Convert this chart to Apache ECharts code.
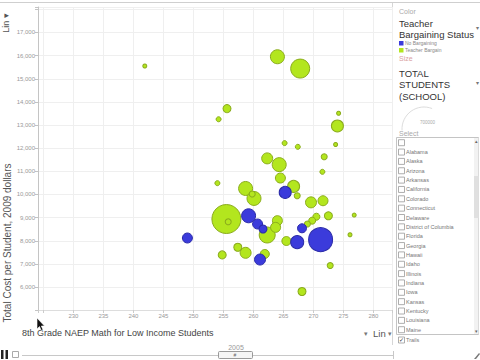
<!DOCTYPE html>
<html><head><meta charset="utf-8">
<script src="https://cdn.jsdelivr.net/npm/echarts@6/dist/echarts.min.js"></script>
<style>html,body{margin:0;padding:0;background:#fff}#c{width:480px;height:360px}</style>
</head><body><div id="c"></div>
<script>
// Teacher Bargaining (green)
const bargainX = [241.9,264.0,267.8,255.6,254.2,274.2,274.0,265.2,267.4,273.7,271.8,262.3,264.3,264.5,271.5,254.0,258.7,260.1,259.8,266.7,267.3,269.6,271.6,272.5,270.5,269.8,269.0,255.5,255.8,264.0,263.7,262.3,265.5,276.1,276.8,257.4,258.7,254.8,261.9,272.8,268.1];
const bargainY = [15550,15950,15440,13710,13250,13510,12960,12220,12060,12160,11630,11560,11290,10710,10980,10490,10260,9830,10020,10350,9945,9660,9730,9080,9040,8870,8725,8940,8820,8870,8580,8250,7990,8260,9110,7720,7480,7390,7430,6930,5810];
const bargainSize = [114,1400,2575,457,178,114,1027,178,178,114,257,863,1400,713,178,178,1400,1400,257,1027,257,863,713,457,350,350,257,6000,257,713,713,1826,578,114,114,457,863,457,578,257,457];
// No Bargaining (blue)
const noBargainX = [265.3,259.2,260.7,261.6,268.1,271.2,249.0,267.3,261.1];
const noBargainY = [10090,9080,8725,8510,8540,8050,8120,7940,7190];
const noBargainSize = [1027,1400,713,457,578,4110,713,1206,863];

const xTickLabels = ['230','235','240','245','250','255','260','265','270','275','280'];
const yTickLabels = ['6,000','7,000','8,000','9,000','10,000','11,000','12,000','13,000','14,000','15,000','16,000','17,000'];
const legendNames = ['No Bargaining','Teacher Bargain'];
const stateNames = ['','Alabama','Alaska','Arizona','Arkansas','California','Colorado','Connecticut','Delaware','District of Columbia','Florida','Georgia','Hawaii','Idaho','Illinois','Indiana','Iowa','Kansas','Kentucky','Louisiana','Maine'];
const yearLabel = '2005';

const F = 'Arial, "Liberation Sans", sans-serif';
function build(xs, ys, ss){
  return xs.map((x,i)=>[x, ys[i], ss[i]]).sort((a,b)=>b[2]-a[2]);
}
function sz(v){ return 29*Math.sqrt(v[2]/6000); }
function T(x,y,text,size,color,extra){
  const o = {type:'text', x:x, y:y, silent:true, style:Object.assign({text:text, fontSize:size, fill:color, fontFamily:F, align:'left', verticalAlign:'middle'}, (extra&&extra.style)||{})};
  if (extra && extra.rotation) o.rotation = extra.rotation;
  return o;
}
const g = [];
// frame lines
g.push({type:'line', shape:{x1:0,y1:2.5,x2:480,y2:2.5}, style:{stroke:'#cfcfcf',lineWidth:1}});
g.push({type:'line', shape:{x1:392.5,y1:3,x2:392.5,y2:345}, style:{stroke:'#d6d6d6',lineWidth:1}});
// left Lin control
g.push(T(6,23,'Lin \u25BE',9,'#555',{rotation:Math.PI/2, style:{align:'center'}}));
// y axis title
g.push(T(7,243,'Total Cost per Student, 2009 dollars',10,'#555',{rotation:Math.PI/2, style:{align:'center'}}));
// x axis title
g.push(T(22,333,'8th Grade NAEP Math for Low Income Students',9,'#444'));
g.push(T(364,333,'\u25BE',7,'#777'));
g.push(T(373,333,'Lin',9.5,'#555'));
g.push(T(388,333,'\u25BE',7,'#777'));
// time slider
g.push(T(236,347,yearLabel,7,'#999',{style:{align:'center'}}));
g.push({type:'line', shape:{x1:22,y1:355.5,x2:393,y2:355.5}, style:{stroke:'#c8c8c8',lineWidth:1}});
g.push({type:'line', shape:{x1:393.5,y1:351,x2:393.5,y2:359}, style:{stroke:'#c8c8c8',lineWidth:1}});
g.push({type:'rect', shape:{x:218.5,y:351.5,width:34,height:7,r:1}, style:{fill:'#f5f5f5',stroke:'#999',lineWidth:1}});
g.push(T(235,355,'#',5,'#666',{style:{align:'center'}}));
g.push({type:'rect', shape:{x:1,y:350,width:2.5,height:9}, style:{fill:'#222'}});
g.push({type:'rect', shape:{x:5.5,y:350,width:2.5,height:9}, style:{fill:'#222'}});
g.push({type:'rect', shape:{x:12.5,y:351.5,width:6,height:6}, style:{fill:'#fff',stroke:'#aaa',lineWidth:1}});
g.push({type:'polygon', shape:{points:[[474,359],[479,353],[480,354],[476,359]]}, style:{fill:'#777'}});
// cursor
g.push({type:'polygon', shape:{points:[[37,318],[37,329],[39.5,326.5],[41.2,330.5],[43,329.7],[41.3,326],[44.5,326]]}, style:{fill:'#111',stroke:'#fff',lineWidth:0.6}});
// right panel
g.push(T(399,11,'Color',7,'#aaa'));
g.push(T(399,23,'Teacher',9.5,'#333'));
g.push(T(399,34.5,'Bargaining Status',9.5,'#333'));
g.push(T(476,28,'\u25BE',6,'#777'));
g.push({type:'rect', shape:{x:399,y:41,width:4.5,height:4.5}, style:{fill:'#3b3bdb'}});
g.push(T(405,43.3,legendNames[0],5,'#888'));
g.push({type:'rect', shape:{x:399,y:48,width:4.5,height:4.5}, style:{fill:'#b3e61e'}});
g.push(T(405,50.3,legendNames[1],5,'#888'));
g.push(T(399,58,'Size',7,'#d9a0a0'));
g.push(T(399,73,'TOTAL',9.5,'#333'));
g.push(T(399,84.5,'STUDENTS',9.5,'#333'));
g.push(T(399,96,'(SCHOOL)',9.5,'#333'));
g.push(T(476,83,'\u25BE',6,'#777'));
g.push({type:'arc', shape:{cx:424,cy:129,r:22,startAngle:Math.PI*0.98,endAngle:Math.PI*1.62}, style:{stroke:'#ddd',lineWidth:1,fill:null}});
g.push(T(420,122,'700000',4.5,'#aaa'));
g.push(T(399,133,'Select',7,'#aaa'));
g.push({type:'rect', shape:{x:396.5,y:137.5,width:82,height:197}, style:{fill:'#fff',stroke:'#c4c4c4',lineWidth:1}});
g.push({type:'rect', shape:{x:474,y:138,width:4.5,height:196}, style:{fill:'#f2f2f2'}});
g.push({type:'rect', shape:{x:474,y:176,width:4.5,height:42}, style:{fill:'#e0e0e0'}});
g.push(T(476.3,141,'\u25B4',5,'#666',{style:{align:'center'}}));
g.push(T(476.3,331,'\u25BE',5,'#666',{style:{align:'center'}}));
stateNames.forEach((n,i)=>{
  const y = 142.7 + i*9.35;
  g.push({type:'rect', shape:{x:398.5,y:y-3,width:6,height:6}, style:{fill:'#fff',stroke:'#999',lineWidth:0.8}});
  if (n) g.push(T(406,y,n,5.5,'#777'));
});
g.push({type:'rect', shape:{x:398.5,y:337,width:6,height:6}, style:{fill:'#fff',stroke:'#999',lineWidth:0.8}});
g.push(T(401.5,340,'\u2713',6,'#333',{style:{align:'center'}}));
g.push(T(406,340,'Trails',5.5,'#777'));

const chart = echarts.init(document.getElementById('c'), null, {renderer:'svg'});
chart.setOption({
  animation:false,
  backgroundColor:'#fff',
  grid:{left:38, right:88, top:7, bottom:50, containLabel:false},
  xAxis:{type:'value', min:224.1, max:283.1, splitNumber:12, minInterval:5, maxInterval:5,
    axisLine:{show:true, lineStyle:{color:'#ddd'}},
    axisTick:{show:true, length:3, lineStyle:{color:'#ccc'}},
    axisLabel:{fontSize:6, color:'#999', margin:3, fontFamily:F,
      formatter:v=>{const i = xTickLabels.indexOf(String(Math.round(v*10)/10)); return i>=0?xTickLabels[i]:'';}},
    splitLine:{show:true, lineStyle:{color:'#efefef'}}},
  yAxis:{type:'value', min:5010, max:18100, splitNumber:13, minInterval:1000, maxInterval:1000,
    axisLine:{show:true, lineStyle:{color:'#c4c4c4'}},
    axisTick:{show:true, length:3, lineStyle:{color:'#c4c4c4'}},
    axisLabel:{fontSize:6, color:'#999', margin:3, fontFamily:F,
      formatter:v=>{const s = Math.round(v).toLocaleString('en-US'); return yTickLabels.indexOf(s)>=0?s:'';}},
    splitLine:{show:true, lineStyle:{color:'#efefef'}}},
  series:[
    {name:legendNames[1], type:'scatter', data:build(bargainX,bargainY,bargainSize), symbolSize:sz,
      itemStyle:{color:'#b3e61e', borderColor:'#8aab1c', borderWidth:1, opacity:1}, emphasis:{disabled:true}, z:2},
    {name:legendNames[0], type:'scatter', data:build(noBargainX,noBargainY,noBargainSize), symbolSize:sz,
      itemStyle:{color:'#3b3bdb', borderColor:'#2a2aa8', borderWidth:1, opacity:1}, emphasis:{disabled:true}, z:3}
  ],
  graphic:g
});
</script></body></html>
